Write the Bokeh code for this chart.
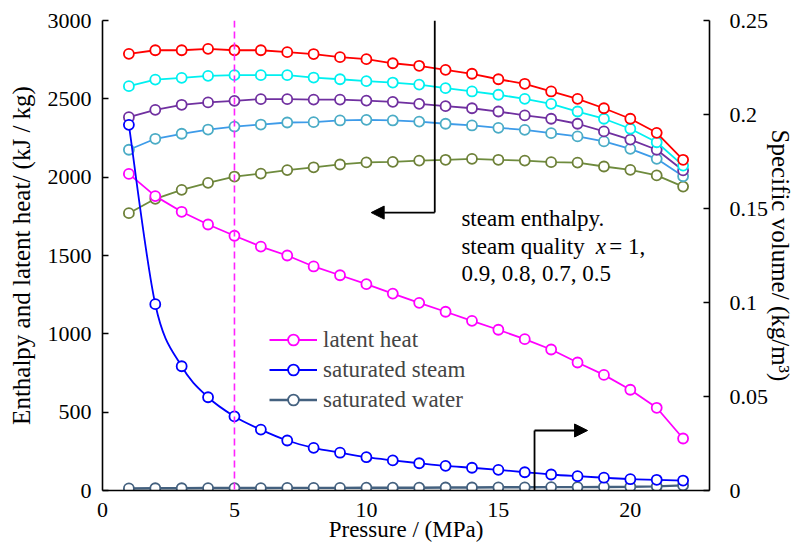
from bokeh.plotting import figure
from bokeh.models import (Range1d, LinearAxis, FixedTicker, Span, Legend,
                          LegendItem, Arrow, NormalHead)
from bokeh.core.properties import value
from bokeh.embed import file_html
from bokeh.resources import INLINE

# ---------------- data ----------------
pressure = [1, 2, 3, 4, 5, 6, 7, 8, 9, 10, 11, 12, 13, 14, 15, 16, 17, 18, 19, 20, 21, 22]

enthalpy_x1 = [2787, 2810, 2810, 2819, 2810, 2810, 2798, 2786, 2766, 2753, 2727,
               2711, 2685, 2660, 2625, 2596, 2547, 2500, 2440, 2373, 2283, 2111]
enthalpy_x09 = [2581, 2623, 2634, 2647, 2651, 2651, 2651, 2636, 2625, 2613, 2604,
                2591, 2568, 2547, 2526, 2500, 2468, 2419, 2373, 2309, 2223, 2074]
enthalpy_x08 = [2383, 2430, 2462, 2477, 2487, 2498, 2498, 2495, 2495, 2489, 2481,
                2468, 2453, 2440, 2419, 2394, 2373, 2341, 2292, 2240, 2175, 2043]
enthalpy_x07 = [2175, 2245, 2277, 2304, 2323, 2336, 2349, 2351, 2362, 2366, 2362,
                2355, 2341, 2330, 2315, 2302, 2281, 2260, 2228, 2181, 2117, 2006]
enthalpy_x05 = [1770, 1862, 1919, 1964, 2004, 2023, 2045, 2063, 2081, 2094, 2098,
                2106, 2111, 2117, 2111, 2106, 2096, 2093, 2068, 2047, 2011, 1940]
latent_heat = [2021, 1879, 1779, 1698, 1626, 1557, 1500, 1430, 1374, 1317, 1257,
               1198, 1141, 1083, 1026, 966, 900, 817, 738, 643, 528, 332]
vol_steam = [0.1945, 0.0991, 0.0661, 0.0496, 0.0394, 0.0324, 0.0266, 0.0227, 0.0201,
             0.0177, 0.0160, 0.0145, 0.0131, 0.0121, 0.0110, 0.0097, 0.0085, 0.0076,
             0.0068, 0.0060, 0.0057, 0.0053]
vol_water = [0.0011, 0.0012, 0.0012, 0.0013, 0.0013, 0.0013, 0.0014, 0.0014, 0.0014,
             0.0015, 0.0015, 0.0015, 0.0016, 0.0016, 0.0017, 0.0017, 0.0018, 0.0018,
             0.0019, 0.0020, 0.0022, 0.0027]

x_ticks = [0, 5, 10, 15, 20]
left_ticks = [0, 500, 1000, 1500, 2000, 2500, 3000]
right_ticks = [0, 0.05, 0.1, 0.15, 0.2, 0.25]
right_tick_labels = ["0", "0.05", "0.1", "0.15", "0.2", "0.25"]

marked_pressure = 5

# annotation anchors (data units)
left_arrow = dict(x_line=12.59, y_top=3000, y_turn=1774, x_tip=10.18)
right_arrow = dict(x_line=16.37, y_bottom=0, y_turn=383, x_tip=18.38)

FONT_NAME = "Liberation Serif"
FONT = value(FONT_NAME)

# ---------------- figure ----------------
p = figure(width=797, height=549, output_backend="svg", toolbar_location=None,
           x_range=Range1d(0, 23), y_range=Range1d(0, 3000),
           min_border_left=102, min_border_right=84, min_border_top=20,
           min_border_bottom=59)
p.outline_line_color = None
p.grid.visible = False
p.background_fill_color = "white"
p.border_fill_color = "white"
p.extra_y_ranges = {"vol": Range1d(0, 0.25)}

def style_axis(ax, tick_in, standoff):
    ax.axis_line_color = "black"
    ax.axis_line_width = 1.6
    ax.major_tick_in = tick_in
    ax.major_tick_out = 0
    ax.major_tick_line_color = "black"
    ax.major_tick_line_width = 1.6
    ax.minor_tick_line_color = None
    ax.major_label_text_font = FONT_NAME
    ax.major_label_text_font_size = "22px"
    ax.major_label_text_color = "black"
    ax.major_label_standoff = standoff
    ax.axis_label_text_font = FONT_NAME
    ax.axis_label_text_font_style = "normal"
    ax.axis_label_text_color = "black"

xa = p.xaxis[0]
xa.ticker = FixedTicker(ticks=x_ticks)
style_axis(xa, 0, 12)
xa.axis_label = "Pressure / (MPa)"
xa.axis_label_text_font_size = "23px"
xa.axis_label_standoff = -3

ya = p.yaxis[0]
ya.ticker = FixedTicker(ticks=left_ticks)
style_axis(ya, 6, 11)
ya.axis_label = "Enthalpy and latent heat/ (kJ / kg)"
ya.axis_label_text_font_size = "25px"
ya.axis_label_standoff = 10

ra = LinearAxis(y_range_name="vol", ticker=FixedTicker(ticks=right_ticks),
                major_label_overrides={t: s for t, s in zip(right_ticks, right_tick_labels)})
style_axis(ra, 6, 20)
ra.axis_label = "Specific volume/ (kg/m\u00b3)"
ra.axis_label_text_font_size = "25px"
ra.axis_label_standoff = -4
p.add_layout(ra, "right")

# dashed marker line at 5 MPa
p.add_layout(Span(location=marked_pressure, dimension="height", line_color="#FF22FF",
                  line_dash="7 4", line_width=1.6))

MS = 10
LW = 1.8

def series(y, line_color, marker_color, range_name="default"):
    ln = p.line(pressure, y, line_color=line_color, line_width=LW, y_range_name=range_name)
    sc = p.scatter(pressure, y, marker="circle", size=MS, line_color=marker_color,
                   line_width=LW, fill_color="white", y_range_name=range_name)
    return ln, sc

series(enthalpy_x05, "#6E8B3D", "#6E8139")
series(enthalpy_x07, "#3D9BE9", "#4BACC6")
series(enthalpy_x08, "#7030A0", "#7030A0")
series(enthalpy_x09, "#00F0F0", "#00F0F0")
series(enthalpy_x1, "#FF0000", "#FF0000")
lat_ln, lat_sc = series(latent_heat, "#FF00FF", "#FF00FF")

# saturated water (right axis)
wat_ln, wat_sc = series(vol_water, "#44617F", "#44617F", "vol")
wat_ln.glyph.line_width = 2.4

# saturated steam (right axis), smooth curve through the points
n = len(pressure)
x0s, y0s, x1s, y1s, cx0, cy0, cx1, cy1 = [], [], [], [], [], [], [], []
for i in range(n - 1):
    im = max(i - 1, 0)
    ip2 = min(i + 2, n - 1)
    x0s.append(pressure[i]); y0s.append(vol_steam[i])
    x1s.append(pressure[i + 1]); y1s.append(vol_steam[i + 1])
    cx0.append(pressure[i] + (pressure[i + 1] - pressure[im]) / 6)
    cy0.append(vol_steam[i] + (vol_steam[i + 1] - vol_steam[im]) / 6)
    cx1.append(pressure[i + 1] - (pressure[ip2] - pressure[i]) / 6)
    cy1.append(vol_steam[i + 1] - (vol_steam[ip2] - vol_steam[i]) / 6)
p.bezier(x0=x0s, y0=y0s, x1=x1s, y1=y1s, cx0=cx0, cy0=cy0, cx1=cx1, cy1=cy1,
         line_color="#0000FF", line_width=LW, y_range_name="vol")
stm_sc = p.scatter(pressure, vol_steam, marker="circle", size=MS, line_color="#0000FF",
                   line_width=LW, fill_color="white", y_range_name="vol")
# single-point line: draws nothing in the plot, gives the legend its line
stm_leg = p.line(pressure[:1], vol_steam[:1], line_color="#0000FF", line_width=LW,
                 y_range_name="vol")

# arrows
p.line([left_arrow["x_line"]] * 2, [left_arrow["y_top"], left_arrow["y_turn"]],
       line_color="black", line_width=LW)
p.add_layout(Arrow(end=NormalHead(size=13, fill_color="black", line_color="black"),
                   x_start=left_arrow["x_line"], y_start=left_arrow["y_turn"],
                   x_end=left_arrow["x_tip"], y_end=left_arrow["y_turn"],
                   line_color="black", line_width=LW))
p.line([right_arrow["x_line"]] * 2, [right_arrow["y_bottom"], right_arrow["y_turn"]],
       line_color="black", line_width=LW)
p.add_layout(Arrow(end=NormalHead(size=13, fill_color="black", line_color="black"),
                   x_start=right_arrow["x_line"], y_start=right_arrow["y_turn"],
                   x_end=right_arrow["x_tip"], y_end=right_arrow["y_turn"],
                   line_color="black", line_width=LW))

# annotation text
TS = "23px"
p.text(x=[13.6], y=[1736], text=["steam enthalpy."], text_font=FONT, text_font_size=TS,
       text_baseline="middle", text_color="black")
p.text(x=[13.6], y=[1557], text=["steam quality"], text_font=FONT, text_font_size=TS,
       text_baseline="middle", text_color="black")
p.text(x=[18.69], y=[1557], text=["x"], text_font=FONT, text_font_size=TS,
       text_font_style="italic", text_baseline="middle", text_color="black")
p.text(x=[19.2], y=[1557], text=["= 1,"], text_font=FONT, text_font_size=TS,
       text_baseline="middle", text_color="black")
p.text(x=[13.6], y=[1385], text=["0.9,  0.8,  0.7,  0.5"], text_font=FONT, text_font_size=TS,
       text_baseline="middle", text_color="black")

# legend
legend = Legend(items=[
    LegendItem(label="latent heat", renderers=[lat_ln, lat_sc]),
    LegendItem(label="saturated steam", renderers=[stm_leg, stm_sc]),
    LegendItem(label="saturated water", renderers=[wat_ln, wat_sc]),
], location=(167, 77), orientation="vertical", padding=0, margin=0, spacing=3,
    glyph_width=48, glyph_height=27, label_height=27, label_standoff=6,
    label_text_font=FONT_NAME, label_text_font_size=TS,
    background_fill_alpha=0, border_line_alpha=0)
p.add_layout(legend)

open("out.html", "w").write(file_html(p, INLINE))
